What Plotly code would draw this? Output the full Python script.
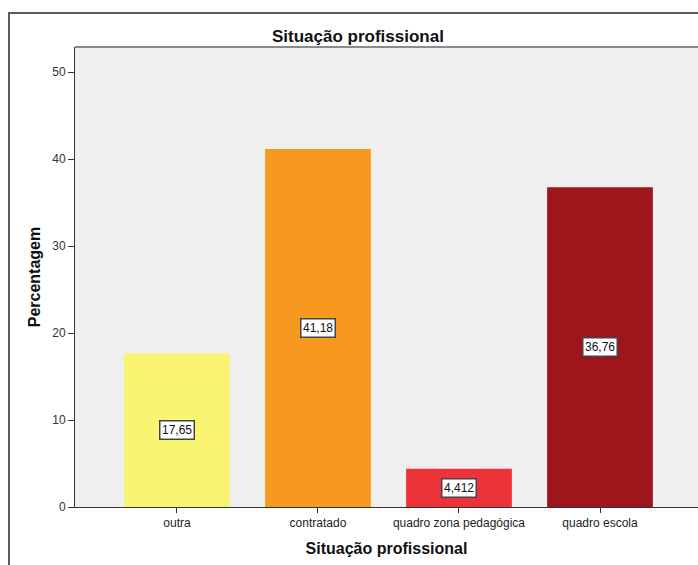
import plotly.graph_objects as go

categories = ["outra", "contratado", "quadro zona pedagógica", "quadro escola"]
values = [17.65, 41.18, 4.412, 36.76]
value_labels = ["17,65", "41,18", "4,412", "36,76"]
colors = ["#F9F472", "#F7991E", "#EE3239", "#9E161B"]
y_ticks = [0, 10, 20, 30, 40, 50]

W, H = 698, 565
L, R, T, B = 75, 0, 47, 58
pw = W - L - R
ph = H - T - B

def px(x):
    return (x - L) / pw

def py(y):
    return (H - B - y) / ph

xi = list(range(len(categories)))

fig = go.Figure()
fig.add_trace(go.Bar(
    x=xi, y=values, marker=dict(color=colors, line=dict(width=0)),
    width=0.75, hoverinfo="skip", showlegend=False,
))

font = "Arial, Liberation Sans, sans-serif"
annotations = []
for i, (v, lab) in enumerate(zip(values, value_labels)):
    annotations.append(dict(
        x=i, y=v / 2, xref="x", yref="y", text=lab, showarrow=False,
        font=dict(family=font, size=12, color="#111"),
        bgcolor="white", bordercolor="#444", borderwidth=1.5, borderpad=1.5,
    ))
annotations.append(dict(
    x=px(358), y=py(36), xref="paper", yref="paper", text="<b>Situação profissional</b>",
    showarrow=False, font=dict(family=font, size=17, color="#111"),
    xanchor="center", yanchor="middle",
))

fig.update_layout(
    width=W, height=H,
    margin=dict(l=L, r=R, t=T, b=B, pad=0),
    paper_bgcolor="white", plot_bgcolor="#EFEFEF",
    bargap=0.25,
    annotations=annotations,
    font=dict(family=font, size=12, color="#333"),
    xaxis=dict(
        range=[-0.723, 3.695], tickmode="array", tickvals=xi, ticktext=categories,
        ticks="outside", ticklen=5, tickcolor="#333", tickwidth=1,
        showline=True, linecolor="#333", linewidth=1, showgrid=False, zeroline=False,
        tickfont=dict(family=font, size=12, color="#222"),
        title=dict(text="<b>Situação profissional</b>", font=dict(family=font, size=16, color="#111"), standoff=13),
        fixedrange=True,
    ),
    yaxis=dict(
        range=[0, 52.9], tickmode="array", tickvals=y_ticks,
        ticks="outside", ticklen=6, tickcolor="#333", tickwidth=1,
        showline=True, linecolor="#333", linewidth=1, showgrid=False, zeroline=False,
        tickfont=dict(family=font, size=12, color="#333"),
        title=dict(text="<b>Percentagem</b>", font=dict(family=font, size=16, color="#111"), standoff=7),
        fixedrange=True,
    ),
    shapes=[
        dict(type="line", xref="paper", yref="paper", x0=0, x1=1, y0=1, y1=1,
             line=dict(color="#8a8a8a", width=2)),
        dict(type="path", xref="paper", yref="paper",
             path=f"M {px(9)},{py(570)} L {px(9)},{py(13)} L {px(710)},{py(13)}",
             line=dict(color="#5b5b6e", width=2)),
    ],
)

fig.write_html("out.html")
